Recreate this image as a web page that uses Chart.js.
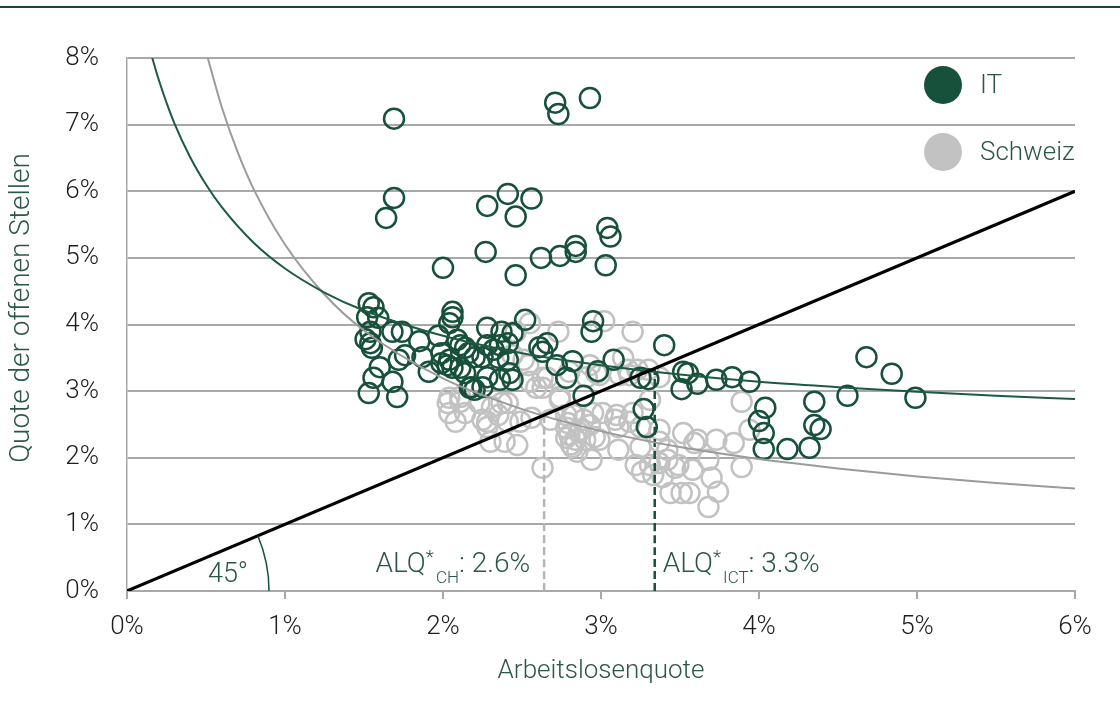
<!DOCTYPE html>
<html>
<head>
<meta charset="utf-8">
<script src="https://cdn.jsdelivr.net/npm/chart.js@4.4.1/dist/chart.umd.min.js"></script>
<style>
  html, body { margin: 0; padding: 0; background: #ffffff; }
  #wrap { width: 1120px; height: 722px; position: relative; }
</style>
</head>
<body>
<div id="wrap"><canvas id="chart" width="1120" height="722"></canvas></div>
<script>
// Beveridge-Kurve: Arbeitslosenquote (x) gegen Quote der offenen Stellen (y), in %

// IT (ICT-Berufe)
const itX = [1.69,2.71,2.73,2.93,1.69,1.64,2.41,2.28,2.56,2.46,3.04,3.06,2.84,2.84,2.27,2.74,2.62,3.03,2.00,2.46,
  1.53,1.56,1.52,1.59,1.54,1.51,1.54,1.55,1.60,1.56,1.53,1.68,1.71,1.68,1.74,1.85,1.97,2.06,2.06,2.04,
  1.72,1.76,1.87,1.91,1.99,1.99,2.03,2.06,2.09,2.11,2.14,2.16,2.20,2.25,2.28,2.28,2.11,2.14,2.17,2.20,
  2.28,2.04,2.37,2.44,2.52,2.36,2.41,2.32,2.35,2.41,2.42,2.44,2.36,2.61,2.66,2.63,2.72,2.82,2.95,2.94,
  2.78,2.98,3.08,2.89,3.25,3.30,3.40,3.27,3.29,3.52,3.55,3.51,3.61,3.73,3.83,3.94,4.68,4.84,4.56,4.99,
  4.04,4.00,4.03,4.03,4.18,4.32,4.35,4.35,4.39,2.18,2.25];
const itY = [7.09,7.33,7.16,7.40,5.90,5.60,5.96,5.78,5.89,5.62,5.45,5.32,5.18,5.09,5.09,5.03,5.00,4.89,4.85,4.74,
  4.32,4.26,4.11,4.10,3.89,3.78,3.72,3.65,3.36,3.20,2.97,3.14,2.91,3.89,3.89,3.75,3.83,4.19,4.11,4.02,
  3.47,3.54,3.51,3.29,3.57,3.42,3.39,3.35,3.77,3.69,3.65,3.57,3.51,3.51,3.69,3.95,3.35,3.27,3.05,3.02,
  3.21,3.47,3.89,3.87,4.07,3.69,3.72,3.62,3.50,3.47,3.27,3.17,3.17,3.66,3.72,3.59,3.39,3.45,4.05,3.89,
  3.20,3.30,3.47,2.93,3.20,3.18,3.69,2.73,2.46,3.29,3.27,3.03,3.11,3.17,3.21,3.14,3.51,3.26,2.93,2.90,
  2.75,2.55,2.37,2.13,2.13,2.15,2.84,2.49,2.43,3.06,3.06];

// Schweiz (alle Berufe)
const chX = [3.02,3.20,2.55,2.73,2.46,2.44,2.51,2.54,2.63,2.66,
  2.55,2.59,2.74,2.80,2.93,2.97,2.91,3.12,3.17,3.18,
  3.23,3.14,3.31,2.74,2.03,2.11,2.04,2.14,2.08,2.23,
  2.31,2.37,2.41,2.25,2.28,2.28,2.35,2.41,2.49,2.56,
  2.39,2.47,2.63,2.68,2.63,2.78,2.80,2.84,2.82,2.85,
  2.87,2.90,2.93,2.96,2.89,2.78,2.95,3.01,3.09,3.11,
  3.20,3.25,3.37,3.52,3.61,3.68,3.11,2.94,3.25,3.22,
  3.26,3.31,3.33,3.37,3.39,3.42,3.47,3.49,3.58,3.44,
  3.51,3.42,3.37,3.68,3.89,3.94,3.59,3.73,3.84,3.89,
  3.70,3.74,3.56,2.04,2.11,2.30,2.99,2.82,3.30,3.37,
  2.99,3.18,3.10,2.83,2.78,2.81,2.86,2.79];
const chY = [4.05,3.89,4.02,3.89,3.89,3.54,3.47,3.39,3.20,3.20,
  3.14,3.05,2.91,3.29,3.39,3.27,3.21,3.24,3.32,3.24,
  3.32,3.50,2.87,2.87,2.82,2.84,2.67,2.67,2.54,2.82,
  2.76,2.82,2.82,2.57,2.54,2.46,2.64,2.54,2.54,2.60,
  2.24,2.19,1.85,2.57,3.05,2.45,2.34,2.27,2.16,2.09,
  2.42,2.27,2.49,2.31,2.57,2.64,2.67,2.67,2.57,2.46,
  2.67,2.46,2.42,2.37,2.27,1.97,2.12,1.97,2.16,1.89,
  1.79,1.89,1.74,1.92,1.71,1.97,1.85,1.89,1.82,1.47,
  1.47,2.12,2.24,1.26,2.84,2.42,2.22,2.27,2.22,1.86,
  1.70,1.49,1.47,2.90,2.91,2.24,2.27,2.67,3.32,3.21,
  3.24,2.54,2.64,2.64,2.30,2.20,2.38,2.52];

const itCurveX = [0.16,0.20,0.25,0.30,0.40,0.50,0.60,0.80,1.00,1.25,1.50,2.00,2.50,3.00,3.50,4.00,4.50,5.00,5.50,6.00];
const itCurveY = [8.00,7.68,7.33,7.02,6.51,6.10,5.76,5.23,4.84,4.48,4.21,3.83,3.57,3.39,3.25,3.14,3.06,2.99,2.93,2.88];
const chCurveX = [0.51,0.60,0.70,0.80,1.00,1.25,1.50,2.00,2.50,3.00,3.50,4.00,4.50,5.00,5.50,6.00];
const chCurveY = [8.01,7.26,6.59,6.04,5.20,4.45,3.91,3.19,2.73,2.40,2.16,1.98,1.84,1.72,1.62,1.54];

// 45°-Linie
const diagX = [0, 6];
const diagY = [0, 6];

// gleichgewichtige Arbeitslosenquoten
const alqCH = 2.64;
const alqICT = 3.34;

const xTickValues = [0, 1, 2, 3, 4, 5, 6];
const yTickValues = [0, 1, 2, 3, 4, 5, 6, 7, 8];

const GREEN = '#17503b';
const GREEN_TEXT = '#2a5746';
const GREY_PT = '#c2c2c2';
const GRID = '#a8a8a8';
const TICK_TEXT = '#1e1e1e';
const FONT = "Roboto, 'Liberation Sans', Arial, sans-serif";

const pts = (xs, ys) => xs.map((x, i) => ({ x: x, y: ys[i] }));

const overlay = {
  id: 'overlay',
  afterDatasetsDraw(chart) {
    const { ctx } = chart;
    const xs = chart.scales.x, ys = chart.scales.y;
    const ox = xs.getPixelForValue(0), oy = ys.getPixelForValue(0);
    ctx.save();

    // Winkelbogen für die 45°-Linie
    const ang = Math.atan2(ys.getPixelForValue(0) - ys.getPixelForValue(6), xs.getPixelForValue(6) - ox);
    ctx.beginPath();
    ctx.strokeStyle = GREEN;
    ctx.lineWidth = 1.5;
    ctx.arc(ox, oy, 142, -ang, 0);
    ctx.stroke();

    ctx.fillStyle = GREEN_TEXT;
    ctx.font = '300 27px ' + FONT;
    ctx.textAlign = 'center';
    ctx.textBaseline = 'alphabetic';
    ctx.fillText('45°', ox + 101, oy - 9);

    // ALQ-Beschriftungen
    function alqLabel(sub, val, anchor, align) {
      const main = '300 28px ' + FONT, small = '300 19px ' + FONT, tiny = '300 17px ' + FONT;
      const tail = ': ' + val.toFixed(1) + '%';
      ctx.font = main; const w1 = ctx.measureText('ALQ').width; const w4 = ctx.measureText(tail).width;
      ctx.font = small; const w2 = ctx.measureText('*').width;
      ctx.font = tiny; const w3 = ctx.measureText(sub).width;
      const total = w1 + w2 + 2 + w3 + w4;
      let x = align === 'right' ? anchor - total : anchor;
      const base = oy - 19;
      ctx.textAlign = 'left';
      ctx.font = main; ctx.fillText('ALQ', x, base); x += w1;
      ctx.font = small; ctx.fillText('*', x, base - 9); x += w2 + 2;
      ctx.font = tiny; ctx.fillText(sub, x, base + 11); x += w3;
      ctx.font = main; ctx.fillText(tail, x, base);
    }
    alqLabel('CH', alqCH, xs.getPixelForValue(alqCH) - 14, 'right');
    alqLabel('ICT', alqICT, xs.getPixelForValue(alqICT) + 8, 'left');
    ctx.restore();
  },
  afterDraw(chart) {
    const { ctx, chartArea } = chart;
    ctx.save();
    // Linie am oberen Rand
    ctx.strokeStyle = '#1c4a39';
    ctx.lineWidth = 2;
    ctx.beginPath();
    ctx.moveTo(0, 7);
    ctx.lineTo(chart.width, 7);
    ctx.stroke();

    // Legende
    const lx = chartArea.right - 132;
    const items = [{ label: 'IT', color: GREEN, y: chartArea.top + 27 },
                   { label: 'Schweiz', color: GREY_PT, y: chartArea.top + 94 }];
    items.forEach(it => {
      ctx.beginPath();
      ctx.fillStyle = it.color;
      ctx.arc(lx, it.y, 19, 0, Math.PI * 2);
      ctx.fill();
      ctx.fillStyle = GREEN_TEXT;
      ctx.font = '300 26px ' + FONT;
      ctx.textAlign = 'left';
      ctx.textBaseline = 'middle';
      ctx.fillText(it.label, lx + 37, it.y + 1);
    });

    // y-Achsentitel
    ctx.translate(22, 308);
    ctx.rotate(-Math.PI / 2);
    ctx.fillStyle = GREEN_TEXT;
    ctx.font = '300 28px ' + FONT;
    ctx.textAlign = 'center';
    ctx.textBaseline = 'middle';
    ctx.fillText('Quote der offenen Stellen', 0, 0);
    ctx.restore();
  }
};

const lineDs = (data, color, width, order, dash) => ({
  type: 'scatter', data: data, showLine: true, borderColor: color, borderWidth: width,
  pointRadius: 0, pointHoverRadius: 0, fill: false, order: order, borderDash: dash || [],
  cubicInterpolationMode: 'monotone', tension: 0.4
});

new Chart(document.getElementById('chart'), {
  type: 'scatter',
  data: {
    datasets: [
      lineDs(pts(diagX, diagY), '#000000', 3, 0),
      lineDs(pts(itCurveX, itCurveY), '#1d5a42', 2, 1),
      lineDs(pts(chCurveX, chCurveY), '#9b9b9b', 2, 1),
      lineDs([{ x: alqCH, y: 0 }, { x: alqCH, y: alqCH }], '#b5b5b5', 2.5, 1, [8, 4]),
      lineDs([{ x: alqICT, y: 0 }, { x: alqICT, y: alqICT }], GREEN, 2.5, 1, [8, 4]),
      {
        label: 'IT', data: pts(itX, itY), order: 2,
        pointRadius: 10, pointBorderWidth: 2.5, borderWidth: 2.5,
        borderColor: GREEN, pointBorderColor: GREEN, backgroundColor: 'rgba(0,0,0,0)', pointBackgroundColor: 'rgba(0,0,0,0)'
      },
      {
        label: 'Schweiz', data: pts(chX, chY), order: 3,
        pointRadius: 10, pointBorderWidth: 2.5, borderWidth: 2.5,
        borderColor: GREY_PT, pointBorderColor: GREY_PT, backgroundColor: 'rgba(0,0,0,0)', pointBackgroundColor: 'rgba(0,0,0,0)'
      }
    ]
  },
  options: {
    responsive: false,
    animation: false,
    devicePixelRatio: 1,
    layout: { padding: { top: 58, right: 45, left: 0, bottom: 0 } },
    plugins: { legend: { display: false }, tooltip: { enabled: false } },
    scales: {
      x: {
        type: 'linear', min: 0, max: 6,
        afterBuildTicks: s => { s.ticks = xTickValues.map(v => ({ value: v })); },
        afterFit: s => { s.height = 131; },
        grid: { drawOnChartArea: false, drawTicks: true, tickLength: 8, color: GRID, lineWidth: 2 },
        border: { display: true, color: GRID, width: 2 },
        ticks: { padding: 13, color: TICK_TEXT, font: { family: FONT, size: 26, weight: '300' }, callback: v => v + '%' },
        title: { display: true, text: 'Arbeitslosenquote', color: GREEN_TEXT, font: { family: FONT, size: 26, weight: '300' }, padding: { top: 0, bottom: 35 } }
      },
      y: {
        type: 'linear', min: 0, max: 8,
        afterBuildTicks: s => { s.ticks = yTickValues.map(v => ({ value: v })); },
        afterFit: s => { s.width = 127; },
        grid: { drawTicks: false, color: GRID, lineWidth: 2 },
        border: { display: true, color: GRID, width: 1.5 },
        ticks: { padding: 28, color: TICK_TEXT, font: { family: FONT, size: 26, weight: '300' }, callback: v => v + '%' }
      }
    }
  },
  plugins: [overlay]
});
</script>
</body>
</html>
